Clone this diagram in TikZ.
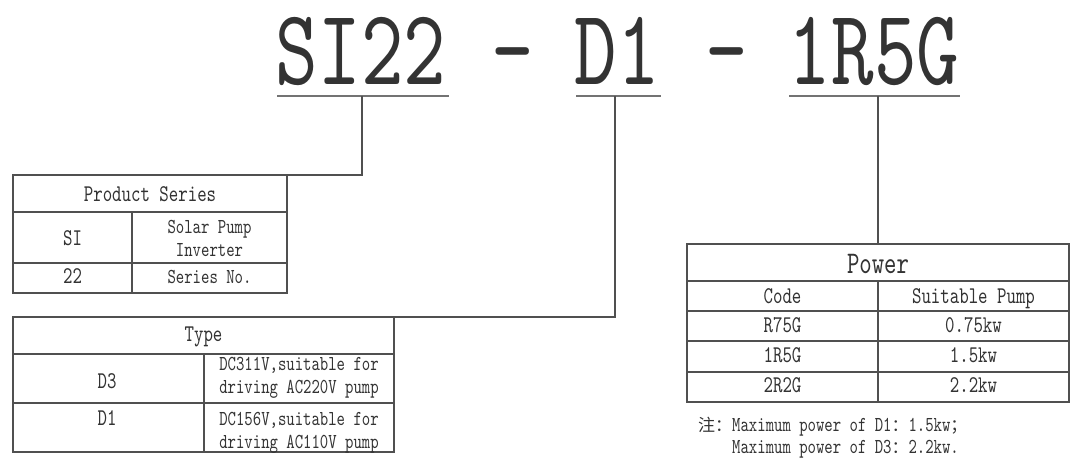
\documentclass[tikz,border=0pt]{standalone}
\usepackage{fontspec}
\setmonofont{lmmono10-regular.otf}[FakeStretch=0.75]
\newfontfamily\cjkfont{Noto Sans CJK SC}
\definecolor{ink}{HTML}{333333}
\definecolor{rule}{HTML}{505050}
\tikzset{
  big/.style={anchor=base,inner sep=0pt,text=ink,font=\ttfamily\fontsize{108}{115}\selectfont},
  head/.style={anchor=base,inner sep=0pt,text=ink,font=\ttfamily\fontsize{24}{26}\selectfont},
  cell/.style={anchor=base,inner sep=0pt,text=ink,align=center,font=\ttfamily\fontsize{21.3}{23}\selectfont},
  grid/.style={draw=rule,line width=1.4pt},
  under/.style={draw=rule!80,line width=1.4pt}
}
\begin{document}
\begin{tikzpicture}[x=1pt,y=-1pt]
  \useasboundingbox (0,0) rectangle (1075,469);

  \node[big] (series) at (361,84) {SI22};
  \node[big] (dash 1) at (513,84) {-};
  \node[big] (type) at (617,84) {D1};
  \node[big] (dash 2) at (727,84) {-};
  \node[big] (power) at (874,84) {1R5G};

  \coordinate (series drop) at (362,96);
  \coordinate (type drop) at (615,96);
  \coordinate (power drop) at (878,96);
  \draw[under] (277,96) -- (449,96);
  \draw[under] (576,96) -- (661,96);
  \draw[under] (789,96) -- (960,96);

  % product series
  \coordinate (series corner) at (287,175);
  \draw[grid] (13,175) rectangle (series corner |- 0,293);
  \draw[grid] (13,212) -- (287,212) (13,263) -- (287,263) (132,212) -- (132,293);
  \node[head] at (150,201) {Product Series};
  \node[head] at (72.5,245) {SI};
  \node[cell] at (209.5,256) {Solar Pump\\Inverter};
  \node[head] at (72.5,283.5) {22};
  \node[cell] at (209.5,283.5) {Series No.};
  \draw[grid] (series drop) |- (series corner);

  % type
  \coordinate (type corner) at (394,317);
  \draw[grid] (13,317) rectangle (394,452);
  \draw[grid] (13,354) -- (394,354) (13,403) -- (394,403) (204,354) -- (204,452);
  \node[head] at (203.5,341) {Type};
  \node[head] at (107,388) {D3};
  \node[cell] at (299,393) {DC311V,suitable for\\driving AC220V pump};
  \node[head] at (107,425) {D1};
  \node[cell] at (299,448) {DC156V,suitable for\\driving AC110V pump};
  \draw[grid] (type drop) |- (type corner);

  % power
  \coordinate (power top) at (878,244);
  \draw[grid] (687,244) rectangle (1069,402);
  \foreach \y in {281,311,341,372}
    \draw[grid] (687,\y) -- (1069,\y);
  \draw[grid] (878,281) -- (878,402);
  \node[head,font=\ttfamily\fontsize{31.5}{34}\selectfont] at (878,273) {Power};
  \node[head] at (782.5,303) {Code};
  \node[head] at (973.5,303) {Suitable Pump};
  \foreach \code/\kw/\y in {R75G/0.75kw/332,1R5G/1.5kw/362,2R2G/2.2kw/392}{
    \node[head] at (782.5,\y) {\code};
    \node[head] at (973.5,\y) {\kw};
  }
  \draw[grid] (power drop) -- (power top);

  \node[cell,anchor=base west] at (698,431)
    {{\cjkfont\fontsize{17}{20}\selectfont 注：}Maximum power of D1{\cjkfont\fontsize{17}{20}\selectfont ：}1.5kw{\cjkfont\fontsize{17}{20}\selectfont ；}};
  \node[cell,anchor=base west] at (732,453)
    {Maximum power of D3{\cjkfont\fontsize{17}{20}\selectfont ：}2.2kw.};
\end{tikzpicture}
\end{document}
